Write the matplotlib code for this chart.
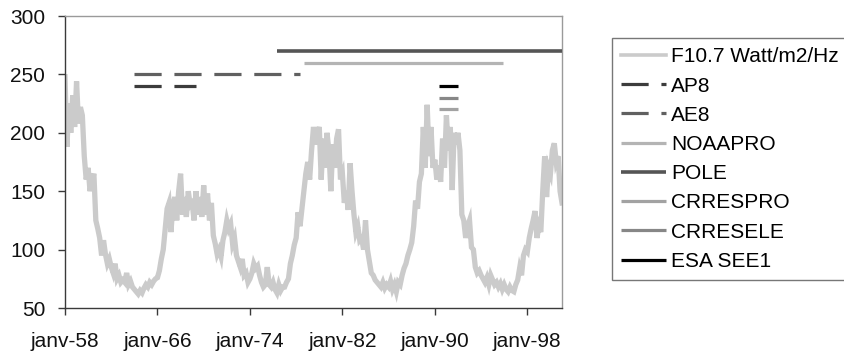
import numpy as np
import matplotlib
matplotlib.use("Agg")
import matplotlib.pyplot as plt

plt.rcParams['font.family'] = ['Liberation Sans', 'DejaVu Sans']

# Solar radio flux F10.7, bimonthly samples (Jan, Mar, May, Jul, Sep, Nov) per year
first_year = 1958
f107_by_year = [
    [248, 188, 225, 200, 232, 205],  # 1958
    [244, 208, 222, 215, 180, 160],  # 1959
    [170, 150, 160, 165, 125, 118],  # 1960
    [110, 95, 108, 96, 88, 92],      # 1961
    [85, 80, 88, 75, 78, 72],        # 1962
    [74, 72, 80, 70, 73, 68],        # 1963
    [66, 64, 62, 65, 63, 67],        # 1964
    [70, 68, 72, 70, 73, 75],        # 1965
    [76, 82, 92, 100, 118, 135],     # 1966
    [140, 115, 138, 145, 125, 150],  # 1967
    [165, 130, 145, 128, 150, 138],  # 1968
    [140, 125, 150, 130, 145, 128],  # 1969
    [155, 130, 148, 125, 140, 112],  # 1970
    [105, 96, 100, 94, 108, 115],    # 1971
    [125, 118, 122, 105, 110, 95],   # 1972
    [90, 85, 92, 78, 80, 72],        # 1973
    [75, 80, 88, 84, 86, 78],        # 1974
    [72, 68, 70, 85, 70, 68],        # 1975
    [72, 66, 63, 70, 65, 68],        # 1976
    [68, 72, 75, 88, 95, 104],       # 1977
    [110, 132, 120, 135, 150, 165],  # 1978
    [175, 160, 185, 205, 190, 200],  # 1979
    [205, 160, 195, 170, 200, 185],  # 1980
    [150, 190, 170, 195, 203, 160],  # 1981
    [165, 140, 150, 134, 174, 150],  # 1982
    [130, 115, 120, 108, 110, 100],  # 1983
    [125, 100, 90, 80, 78, 74],      # 1984
    [72, 70, 68, 72, 67, 70],        # 1985
    [68, 73, 66, 70, 64, 72],        # 1986
    [70, 78, 84, 88, 95, 100],       # 1987
    [106, 120, 142, 135, 158, 165],  # 1988
    [205, 170, 224, 180, 205, 170],  # 1989
    [177, 160, 172, 158, 195, 170],  # 1990
    [215, 185, 205, 151, 200, 190],  # 1991
    [200, 185, 130, 125, 110, 120],  # 1992
    [125, 102, 100, 85, 80, 82],     # 1993
    [78, 75, 72, 76, 70, 78],        # 1994
    [74, 70, 72, 68, 71, 66],        # 1995
    [70, 66, 64, 68, 65, 64],        # 1996
    [70, 74, 84, 78, 95, 100],       # 1997
    [98, 110, 118, 125, 133, 110],   # 1998
    [120, 115, 150, 180, 145, 170],  # 1999
    [165, 185, 191, 175, 180, 150],  # 2000
]
f107_last = 140  # Jan 2001

# Radiation models / missions: name, start (year), end (year), level
mission_names = ["AP8", "AE8", "NOAAPRO", "POLE", "CRRESPRO", "CRRESELE", "ESA SEE1"]
mission_start = [1964.0, 1964.0, 1978.7, 1976.3, 1990.4, 1990.4, 1990.4]
mission_end = [1969.3, 1978.3, 1995.9, 2001.0, 1992.0, 1992.0, 1992.0]
mission_level = [240, 250, 260, 270, 220, 230, 240]

tick_years = [1958, 1966, 1974, 1982, 1990, 1998]
tick_labels = ["janv-58", "janv-66", "janv-74", "janv-82", "janv-90", "janv-98"]

# Styles
styles = {
    "AP8":      dict(color="#3c3c3c", lw=2.3, dashes=(8.5, 4.0)),
    "AE8":      dict(color="#606060", lw=2.3, dashes=(8.5, 4.0)),
    "NOAAPRO":  dict(color="#b4b4b4", lw=2.3),
    "POLE":     dict(color="#555555", lw=2.6),
    "CRRESPRO": dict(color="#a2a2a2", lw=2.3),
    "CRRESELE": dict(color="#878787", lw=2.3),
    "ESA SEE1": dict(color="#000000", lw=2.3),
}

f107 = np.array([v for row in f107_by_year for v in row] + [f107_last], dtype=float)
t = first_year + np.arange(len(f107)) / 6.0

fig = plt.figure(figsize=(8.44, 3.58), dpi=100)
ax = fig.add_axes([65 / 844, 1 - 308 / 358, (562 - 65) / 844, (308 - 16) / 358])

ax.plot(t, f107, color="#cbcbcb", lw=3.8, solid_joinstyle="miter",
        label="F10.7 Watt/m2/Hz", zorder=2)

for name, s, e, lev in zip(mission_names, mission_start, mission_end, mission_level):
    st = dict(styles[name])
    dashes = st.pop("dashes", None)
    ln, = ax.plot([s, e], [lev, lev], label=name, solid_capstyle="butt",
                  dash_capstyle="butt", zorder=3, **st)
    if dashes is not None:
        ln.set_dashes(dashes)

ax.set_xlim(1958, 2001)
ax.set_ylim(50, 300)
ax.set_yticks(range(50, 301, 50))
ax.set_xticks(tick_years)
ax.set_xticklabels(tick_labels)

for side in ("top", "right"):
    ax.spines[side].set_color("#9a9a9a")
    ax.spines[side].set_linewidth(1.0)
for side in ("left", "bottom"):
    ax.spines[side].set_color("#3a3a3a")
    ax.spines[side].set_linewidth(1.0)

ax.tick_params(axis="both", direction="out", length=5.2, width=1.0,
               color="#3a3a3a", labelsize=15, labelcolor="#111111")
ax.tick_params(axis="x", pad=12)
ax.tick_params(axis="y", pad=9)

leg = fig.legend(loc="upper left", bbox_to_anchor=(612 / 844, 1 - 38 / 358),
                 bbox_transform=fig.transFigure, frameon=True, fancybox=False,
                 fontsize=15, handlelength=2.15, handletextpad=0.25,
                 labelspacing=0.49, borderpad=0.45, borderaxespad=0.0)
leg.get_frame().set_edgecolor("#555555")
leg.get_frame().set_linewidth(1.0)
leg.get_lines()[0].set_linewidth(2.6)

fig.savefig("out.png", dpi=100)
